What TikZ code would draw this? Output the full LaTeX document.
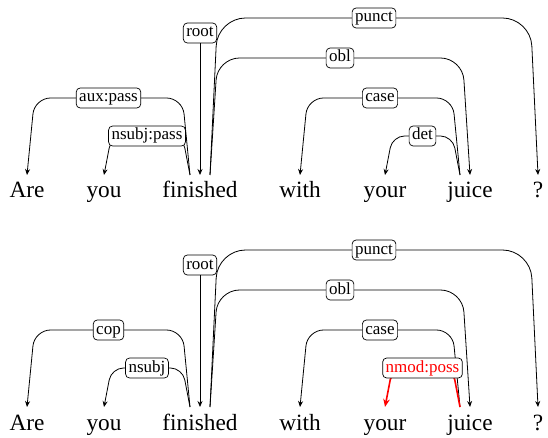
\documentclass[tikz,border=0pt]{standalone}
\usepackage{fontspec}
\setmainfont{Liberation Serif}
\usetikzlibrary{arrows.meta,calc}
\tikzset{
  word/.style={anchor=base, inner sep=0pt, font=\fontsize{23.3}{24}\selectfont},
  lab/.style={draw=black, fill=white, rounded corners=4pt, line width=0.7pt, inner xsep=3pt, inner ysep=2pt, text height=12pt, text depth=4pt, font=\fontsize{17}{18}\selectfont, text=black},
  edge/.style={draw=black, line width=0.8pt, -{Stealth[length=6pt,width=5pt]}},
  redge/.style={draw=red, line width=1.6pt, -{Stealth[length=8pt,width=6.5pt]}},
}
% #1 extra style, #2 from, #3 to, #4 level y, #5 slant, #6 corner radius, #7 label
\newcommand\depe[7][]{%
  \draw[edge,rounded corners=#6,#1] let \p1=(#2), \p2=(#3) in
    (#2) -- ({\x1+(#5)}, #4) -- node[lab]{#7} ({\x2-(#5)}, #4) -- (#3);
}
\begin{document}
\begin{tikzpicture}[x=1pt,y=1pt]
\useasboundingbox (0,0) rectangle (548,-438);
% ---------- top diagram ----------
\foreach \n/\x/\w in {1/27/Are,2/104/you,3/200/finished,4/300/with,5/385/your,6/470/juice,7/538/?}
  \node[word] (t\n) at (\x,-198) {\w};
\coordinate (tA) at ($(t1.base)+(0,23)$);
\coordinate (tY) at ($(t2.base)+(0,23)$);
\coordinate (tFL) at ($(t3.base)+(-10,23)$);
\coordinate (tFM) at ($(t3.base)+(0,23)$);
\coordinate (tFR) at ($(t3.base)+(10,23)$);
\coordinate (tW) at ($(t4.base)+(0,23)$);
\coordinate (tYo) at ($(t5.base)+(0,23)$);
\coordinate (tJL) at ($(t6.base)+(-10,23)$);
\coordinate (tJM) at ($(t6.base)+(0,23)$);
\coordinate (tQ) at ($(t7.base)+(0,23)$);
\depe{tFR}{tQ}{-18}{7.5}{28}{punct}
\depe{tFR}{tJM}{-58}{7.5}{22}{obl}
\depe{tFL}{tA}{-98}{-7.5}{16}{aux:pass}
\depe{tFL}{tY}{-136}{-7.5}{12}{nsubj:pass}
\depe{tJL}{tW}{-98}{-7.5}{16}{case}
\depe{tJL}{tYo}{-136}{-7.5}{12}{det}
\node[lab] (troot) at (200,-33) {root};
\draw[edge] (troot) -- (tFM);
% ---------- bottom diagram ----------
\foreach \n/\x/\w in {1/27/Are,2/104/you,3/200/finished,4/300/with,5/385/your,6/470/juice,7/538/?}
  \node[word] (b\n) at (\x,-430) {\w};
\coordinate (bA) at ($(b1.base)+(0,23)$);
\coordinate (bY) at ($(b2.base)+(0,23)$);
\coordinate (bFL) at ($(b3.base)+(-10,23)$);
\coordinate (bFM) at ($(b3.base)+(0,23)$);
\coordinate (bFR) at ($(b3.base)+(10,23)$);
\coordinate (bW) at ($(b4.base)+(0,23)$);
\coordinate (bYo) at ($(b5.base)+(0,23)$);
\coordinate (bJL) at ($(b6.base)+(-10,23)$);
\coordinate (bJM) at ($(b6.base)+(0,23)$);
\coordinate (bQ) at ($(b7.base)+(0,23)$);
\depe{bFR}{bQ}{-250}{7.5}{28}{punct}
\depe{bFR}{bJM}{-290}{7.5}{22}{obl}
\depe{bFL}{bA}{-330}{-7.5}{16}{cop}
\depe{bFL}{bY}{-368}{-7.5}{12}{nsubj}
\depe{bJL}{bW}{-330}{-7.5}{16}{case}
\draw[redge,rounded corners=12] let \p1=(bJL), \p2=(bYo) in
  (bJL) -- ({\x1-7.5}, -368) -- node[lab,text=red]{nmod:poss} ({\x2+7.5}, -368) -- (bYo);
\node[lab] (broot) at (200,-265) {root};
\draw[edge] (broot) -- (bFM);
\end{tikzpicture}
\end{document}
